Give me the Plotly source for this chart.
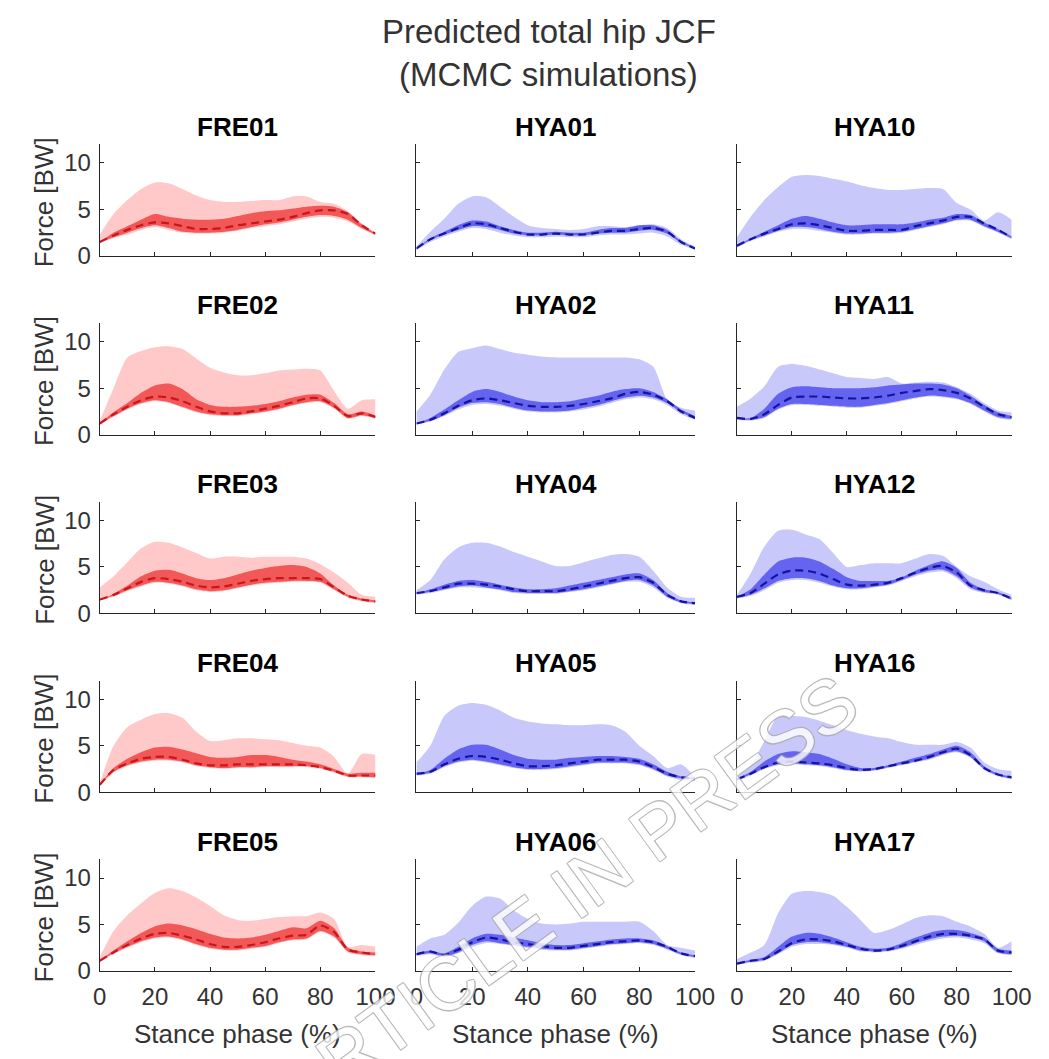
import plotly.graph_objects as go

# ---------------- data (stance phase %, force in BW) ----------------
stance = [0, 5, 10, 15, 20, 25, 30, 35, 40, 45, 50, 55, 60, 65, 70, 75, 80, 85, 90, 95, 100]
y_ticks = [0, 5, 10]
x_ticks = [0, 20, 40, 60, 80, 100]

FRE01_med    = [1.5, 2.2, 2.8, 3.3, 3.6, 3.5, 3.2, 2.9, 2.9, 3.0, 3.3, 3.5, 3.7, 3.9, 4.2, 4.6, 4.9, 4.9, 4.5, 3.3, 2.4]
FRE01_in_hi  = [1.5, 2.5, 3.2, 3.9, 4.5, 4.2, 4.0, 3.9, 3.9, 4.0, 4.3, 4.6, 4.8, 4.9, 5.1, 5.3, 5.4, 5.3, 4.7, 3.4, 2.4]
FRE01_in_lo  = [1.5, 2.0, 2.5, 3.0, 3.3, 3.0, 2.6, 2.5, 2.5, 2.6, 2.8, 3.1, 3.4, 3.6, 3.9, 4.2, 4.4, 4.3, 3.9, 3.0, 2.3]
FRE01_out_hi = [2.3, 4.5, 6.0, 7.2, 7.9, 7.8, 7.2, 6.5, 6.0, 5.8, 5.8, 5.9, 6.0, 6.0, 6.4, 6.4, 5.8, 5.6, 4.8, 3.5, 2.5]
FRE01_out_lo = [1.4, 1.9, 2.3, 2.8, 3.1, 2.8, 2.5, 2.4, 2.4, 2.5, 2.7, 3.0, 3.2, 3.4, 3.7, 4.0, 4.2, 4.1, 3.7, 2.9, 2.2]

FRE02_med    = [1.2, 2.2, 3.0, 3.7, 4.1, 4.0, 3.6, 3.0, 2.5, 2.3, 2.3, 2.5, 2.8, 3.1, 3.5, 3.9, 3.9, 3.1, 2.0, 2.3, 1.9]
FRE02_in_hi  = [1.2, 2.4, 3.4, 4.5, 5.3, 5.5, 4.9, 3.8, 3.2, 3.0, 3.0, 3.1, 3.3, 3.6, 4.0, 4.3, 4.3, 3.4, 2.2, 2.5, 2.1]
FRE02_in_lo  = [1.2, 2.0, 2.8, 3.4, 3.7, 3.5, 3.0, 2.5, 2.2, 2.1, 2.1, 2.3, 2.5, 2.8, 3.2, 3.5, 3.6, 2.9, 1.8, 2.1, 1.8]
FRE02_out_hi = [1.5, 5.0, 8.3, 9.0, 9.4, 9.5, 9.2, 8.2, 7.2, 6.7, 6.4, 6.4, 6.6, 6.9, 7.0, 7.1, 6.9, 4.7, 2.8, 3.7, 3.8]
FRE02_out_lo = [1.1, 1.9, 2.7, 3.3, 3.6, 3.4, 2.9, 2.4, 2.1, 2.0, 2.0, 2.2, 2.4, 2.7, 3.1, 3.4, 3.5, 2.8, 1.7, 2.0, 1.7]

FRE03_med    = [1.5, 2.0, 2.7, 3.4, 3.8, 3.7, 3.4, 3.0, 2.8, 2.9, 3.2, 3.5, 3.7, 3.8, 3.8, 3.8, 3.7, 2.8, 1.9, 1.5, 1.3]
FRE03_in_hi  = [1.5, 2.1, 3.0, 4.0, 4.6, 4.7, 4.3, 3.8, 3.6, 3.8, 4.2, 4.6, 4.9, 5.1, 5.2, 5.0, 4.3, 3.0, 2.0, 1.6, 1.4]
FRE03_in_lo  = [1.5, 1.9, 2.5, 3.0, 3.4, 3.3, 3.0, 2.6, 2.4, 2.5, 2.8, 3.1, 3.3, 3.4, 3.5, 3.5, 3.4, 2.6, 1.8, 1.4, 1.2]
FRE03_out_hi = [2.8, 4.0, 5.5, 7.0, 7.7, 7.6, 7.1, 6.5, 5.9, 6.1, 6.1, 6.0, 6.1, 6.1, 6.1, 5.9, 5.3, 4.4, 3.3, 2.0, 1.8]
FRE03_out_lo = [1.4, 1.8, 2.4, 2.9, 3.3, 3.2, 2.9, 2.5, 2.3, 2.4, 2.7, 3.0, 3.2, 3.3, 3.4, 3.4, 3.3, 2.5, 1.7, 1.3, 1.1]

FRE04_med    = [0.8, 2.4, 3.1, 3.6, 3.8, 3.8, 3.5, 3.1, 2.9, 2.9, 3.0, 3.0, 3.0, 3.0, 3.0, 2.9, 2.7, 2.3, 1.8, 1.8, 1.8]
FRE04_in_hi  = [0.8, 2.6, 3.6, 4.3, 4.8, 4.9, 4.6, 4.2, 3.8, 3.7, 3.8, 4.0, 4.0, 3.8, 3.5, 3.3, 3.0, 2.5, 2.0, 2.1, 2.1]
FRE04_in_lo  = [0.8, 2.2, 2.9, 3.3, 3.5, 3.5, 3.3, 2.9, 2.7, 2.6, 2.7, 2.7, 2.8, 2.8, 2.8, 2.8, 2.6, 2.2, 1.7, 1.7, 1.6]
FRE04_out_hi = [1.0, 5.0, 7.0, 7.8, 8.4, 8.5, 8.0, 6.5, 5.5, 5.6, 5.8, 5.8, 5.7, 5.6, 5.3, 5.0, 4.8, 3.8, 2.0, 4.1, 4.0]
FRE04_out_lo = [0.7, 2.1, 2.8, 3.2, 3.4, 3.4, 3.2, 2.8, 2.6, 2.5, 2.6, 2.6, 2.7, 2.7, 2.7, 2.7, 2.5, 2.1, 1.6, 1.6, 1.5]

FRE05_med    = [1.1, 2.0, 2.8, 3.5, 4.0, 4.1, 3.8, 3.4, 2.9, 2.6, 2.6, 2.8, 3.1, 3.5, 3.8, 3.9, 4.9, 4.2, 2.3, 2.0, 1.8]
FRE05_in_hi  = [1.1, 2.2, 3.2, 4.1, 4.8, 5.1, 4.9, 4.5, 4.0, 3.6, 3.5, 3.6, 3.9, 4.3, 4.7, 4.6, 5.4, 4.6, 2.5, 2.1, 2.0]
FRE05_in_lo  = [1.1, 1.9, 2.6, 3.2, 3.6, 3.7, 3.4, 2.9, 2.5, 2.3, 2.3, 2.5, 2.7, 3.1, 3.4, 3.5, 4.3, 3.7, 2.1, 1.8, 1.7]
FRE05_out_hi = [1.5, 4.3, 6.0, 7.3, 8.4, 8.9, 8.6, 7.9, 7.0, 6.0, 5.5, 5.4, 5.6, 5.8, 5.9, 5.9, 6.3, 5.6, 2.6, 2.8, 2.6]
FRE05_out_lo = [1.0, 1.8, 2.5, 3.1, 3.5, 3.6, 3.3, 2.8, 2.4, 2.2, 2.2, 2.4, 2.6, 3.0, 3.3, 3.4, 4.2, 3.6, 2.0, 1.7, 1.6]

HYA01_med    = [0.8, 1.8, 2.4, 3.0, 3.5, 3.4, 3.0, 2.6, 2.3, 2.3, 2.4, 2.3, 2.3, 2.5, 2.7, 2.7, 2.9, 3.0, 2.6, 1.5, 0.8]
HYA01_in_hi  = [0.8, 1.9, 2.6, 3.3, 3.8, 3.7, 3.2, 2.8, 2.5, 2.5, 2.6, 2.5, 2.5, 2.8, 3.0, 3.0, 3.3, 3.3, 2.8, 1.6, 0.9]
HYA01_in_lo  = [0.7, 1.7, 2.3, 2.8, 3.2, 3.1, 2.8, 2.4, 2.2, 2.2, 2.3, 2.2, 2.2, 2.4, 2.5, 2.5, 2.7, 2.8, 2.4, 1.4, 0.8]
HYA01_out_hi = [1.0, 2.6, 4.0, 5.6, 6.4, 6.3, 5.3, 4.2, 3.3, 3.0, 2.9, 2.8, 2.9, 3.2, 3.2, 3.1, 3.3, 3.4, 3.0, 1.8, 1.0]
HYA01_out_lo = [0.6, 1.5, 2.1, 2.6, 3.0, 2.9, 2.5, 2.2, 2.0, 2.0, 2.1, 2.0, 2.0, 2.2, 2.3, 2.3, 2.4, 2.5, 2.1, 1.2, 0.7]

HYA02_med    = [1.2, 1.6, 2.3, 3.1, 3.7, 3.9, 3.7, 3.4, 3.1, 3.0, 3.0, 3.1, 3.3, 3.6, 3.9, 4.4, 4.6, 4.3, 3.6, 2.5, 1.8]
HYA02_in_hi  = [1.2, 1.8, 2.7, 3.7, 4.6, 4.9, 4.6, 4.1, 3.7, 3.5, 3.5, 3.6, 3.9, 4.2, 4.6, 4.9, 5.0, 4.6, 3.8, 2.7, 2.0]
HYA02_in_lo  = [1.2, 1.5, 2.1, 2.9, 3.4, 3.5, 3.3, 2.9, 2.6, 2.5, 2.5, 2.6, 2.9, 3.2, 3.6, 4.0, 4.2, 4.0, 3.4, 2.4, 1.7]
HYA02_out_hi = [2.5, 4.3, 7.0, 8.9, 9.3, 9.6, 9.2, 8.8, 8.6, 8.4, 8.3, 8.3, 8.3, 8.3, 8.3, 8.3, 8.1, 7.3, 3.8, 2.9, 2.6]
HYA02_out_lo = [1.1, 1.4, 2.0, 2.7, 3.2, 3.3, 3.1, 2.8, 2.5, 2.4, 2.4, 2.5, 2.7, 3.0, 3.4, 3.8, 4.0, 3.8, 3.2, 2.2, 1.6]

HYA04_med    = [2.2, 2.4, 2.8, 3.2, 3.2, 3.1, 2.9, 2.6, 2.4, 2.4, 2.4, 2.6, 2.9, 3.2, 3.5, 3.8, 3.9, 3.3, 2.0, 1.3, 1.1]
HYA04_in_hi  = [2.2, 2.6, 3.1, 3.5, 3.6, 3.4, 3.1, 2.8, 2.6, 2.6, 2.7, 3.0, 3.3, 3.6, 3.9, 4.2, 4.3, 3.6, 2.2, 1.4, 1.2]
HYA04_in_lo  = [2.1, 2.3, 2.6, 2.9, 3.0, 2.8, 2.6, 2.3, 2.2, 2.2, 2.2, 2.4, 2.6, 2.9, 3.2, 3.5, 3.6, 3.0, 1.8, 1.2, 1.0]
HYA04_out_hi = [2.5, 3.6, 5.8, 7.1, 7.6, 7.6, 7.2, 6.6, 6.1, 5.6, 5.1, 5.1, 5.5, 5.9, 6.3, 6.4, 6.1, 4.6, 2.8, 1.8, 1.7]
HYA04_out_lo = [2.0, 2.2, 2.5, 2.8, 2.8, 2.7, 2.5, 2.2, 2.1, 2.1, 2.1, 2.3, 2.5, 2.8, 3.1, 3.4, 3.4, 2.8, 1.7, 1.1, 0.9]

HYA05_med    = [2.0, 2.2, 3.0, 3.6, 3.9, 3.8, 3.5, 3.1, 2.8, 2.8, 2.9, 3.1, 3.3, 3.5, 3.5, 3.5, 3.3, 2.7, 2.0, 1.6, 1.5]
HYA05_in_hi  = [2.0, 2.4, 3.6, 4.6, 5.1, 5.1, 4.6, 4.0, 3.6, 3.5, 3.5, 3.7, 3.8, 3.9, 3.9, 3.8, 3.6, 3.0, 2.2, 1.7, 1.6]
HYA05_in_lo  = [1.9, 2.1, 2.8, 3.3, 3.5, 3.3, 3.0, 2.7, 2.5, 2.5, 2.6, 2.8, 3.0, 3.2, 3.2, 3.2, 3.0, 2.5, 1.8, 1.5, 1.4]
HYA05_out_hi = [3.2, 5.0, 8.2, 9.3, 9.6, 9.4, 8.8, 8.0, 7.6, 7.4, 7.3, 7.2, 7.2, 7.3, 7.2, 6.5, 5.0, 3.9, 2.6, 3.0, 1.6]
HYA05_out_lo = [1.8, 2.0, 2.7, 3.2, 3.4, 3.2, 2.9, 2.6, 2.4, 2.4, 2.5, 2.7, 2.9, 3.1, 3.1, 3.1, 2.9, 2.4, 1.7, 1.3, 1.2]

HYA06_med    = [1.8, 2.1, 1.7, 2.3, 3.1, 3.6, 3.4, 3.1, 2.9, 2.7, 2.5, 2.5, 2.7, 2.9, 3.1, 3.2, 3.3, 3.1, 2.6, 1.9, 1.6]
HYA06_in_hi  = [1.9, 2.2, 1.9, 2.6, 3.5, 4.0, 3.9, 3.6, 3.3, 3.0, 2.8, 2.8, 3.0, 3.2, 3.4, 3.5, 3.5, 3.3, 2.7, 2.0, 1.7]
HYA06_in_lo  = [1.7, 1.9, 1.6, 2.0, 2.8, 3.2, 3.0, 2.8, 2.6, 2.4, 2.3, 2.3, 2.5, 2.7, 2.9, 3.0, 3.1, 2.9, 2.4, 1.8, 1.5]
HYA06_out_hi = [2.6, 3.5, 3.9, 5.2, 7.0, 8.0, 7.8, 6.5, 5.6, 5.1, 5.0, 5.1, 5.3, 5.3, 5.3, 5.3, 5.3, 4.3, 2.8, 2.5, 2.2]
HYA06_out_lo = [1.6, 1.8, 1.5, 1.9, 2.6, 3.0, 2.9, 2.7, 2.5, 2.3, 2.2, 2.2, 2.4, 2.6, 2.8, 2.9, 3.0, 2.8, 2.3, 1.7, 1.4]

HYA10_med    = [1.1, 1.8, 2.4, 2.9, 3.4, 3.5, 3.3, 3.0, 2.7, 2.7, 2.8, 2.8, 2.8, 3.2, 3.5, 3.8, 4.2, 4.2, 3.5, 2.8, 2.0]
HYA10_in_hi  = [1.1, 1.9, 2.6, 3.3, 4.0, 4.3, 4.0, 3.6, 3.3, 3.3, 3.4, 3.4, 3.4, 3.6, 3.9, 4.1, 4.5, 4.4, 3.6, 2.9, 2.1]
HYA10_in_lo  = [1.0, 1.7, 2.2, 2.7, 3.1, 3.1, 2.9, 2.6, 2.4, 2.4, 2.5, 2.5, 2.6, 2.9, 3.2, 3.5, 3.9, 3.9, 3.2, 2.6, 1.9]
HYA10_out_hi = [2.0, 4.2, 6.0, 7.4, 8.5, 8.7, 8.6, 8.3, 8.0, 7.6, 7.3, 7.1, 7.1, 7.2, 7.3, 7.2, 5.7, 5.0, 3.8, 4.7, 3.9]
HYA10_out_lo = [0.9, 1.6, 2.1, 2.6, 2.9, 2.9, 2.7, 2.5, 2.3, 2.3, 2.4, 2.4, 2.5, 2.8, 3.1, 3.4, 3.8, 3.8, 3.1, 2.5, 1.8]

HYA11_med    = [1.8, 1.7, 2.2, 3.2, 4.0, 4.1, 4.1, 4.0, 3.9, 3.9, 4.0, 4.2, 4.5, 4.7, 4.9, 4.8, 4.5, 3.9, 3.0, 2.2, 1.9]
HYA11_in_hi  = [1.8, 1.8, 2.8, 4.4, 5.1, 5.2, 5.1, 5.0, 5.0, 5.0, 5.1, 5.3, 5.4, 5.5, 5.5, 5.4, 5.0, 4.2, 3.2, 2.4, 2.0]
HYA11_in_lo  = [1.7, 1.6, 1.9, 2.8, 3.3, 3.3, 3.2, 3.1, 3.0, 3.0, 3.2, 3.4, 3.7, 4.0, 4.2, 4.1, 3.9, 3.4, 2.6, 1.9, 1.7]
HYA11_out_hi = [3.0, 3.9, 5.2, 7.3, 7.6, 7.4, 7.0, 6.6, 6.2, 6.1, 6.0, 6.2, 5.5, 5.6, 5.7, 5.6, 5.1, 4.4, 3.4, 2.6, 2.4]
HYA11_out_lo = [1.6, 1.5, 1.8, 2.7, 3.2, 3.2, 3.1, 3.0, 2.9, 2.9, 3.1, 3.3, 3.6, 3.9, 4.1, 4.0, 3.8, 3.3, 2.5, 1.8, 1.6]

HYA12_med    = [1.8, 2.2, 3.2, 4.2, 4.6, 4.6, 4.3, 3.7, 3.1, 3.0, 3.1, 3.3, 3.8, 4.4, 4.9, 5.1, 4.4, 3.0, 2.5, 2.2, 1.6]
HYA12_in_hi  = [1.8, 2.6, 4.2, 5.6, 6.0, 6.0, 5.6, 4.8, 3.9, 3.5, 3.5, 3.5, 3.9, 4.6, 5.2, 5.6, 4.9, 3.3, 2.6, 2.3, 1.7]
HYA12_in_lo  = [1.7, 2.0, 2.7, 3.5, 3.8, 3.8, 3.5, 3.0, 2.7, 2.7, 2.9, 3.1, 3.6, 4.2, 4.6, 4.7, 4.0, 2.8, 2.3, 2.1, 1.5]
HYA12_out_hi = [2.0, 4.3, 7.2, 8.9, 9.0, 8.5, 8.0, 6.5, 5.0, 5.2, 5.4, 5.4, 5.4, 5.9, 6.4, 6.2, 5.0, 4.0, 3.4, 2.6, 2.0]
HYA12_out_lo = [1.6, 1.9, 2.5, 3.3, 3.6, 3.6, 3.3, 2.9, 2.6, 2.6, 2.8, 3.0, 3.5, 4.0, 4.4, 4.5, 3.8, 2.6, 2.2, 2.0, 1.4]

HYA16_med    = [1.4, 2.0, 2.7, 3.2, 3.3, 3.2, 3.1, 2.9, 2.6, 2.4, 2.5, 2.8, 3.1, 3.4, 3.8, 4.3, 4.7, 4.0, 2.6, 1.9, 1.6]
HYA16_in_hi  = [1.4, 2.2, 3.3, 4.1, 4.4, 4.3, 4.1, 3.6, 3.0, 2.6, 2.6, 2.9, 3.3, 3.7, 4.1, 4.6, 5.0, 4.3, 2.8, 2.0, 1.7]
HYA16_in_lo  = [1.3, 1.9, 2.6, 3.0, 3.1, 3.0, 2.9, 2.7, 2.4, 2.3, 2.4, 2.7, 3.0, 3.3, 3.6, 4.1, 4.4, 3.8, 2.5, 1.8, 1.5]
HYA16_out_hi = [1.6, 2.9, 5.5, 8.2, 8.2, 8.1, 7.7, 7.2, 6.7, 6.3, 6.0, 5.8, 5.4, 5.1, 5.1, 5.1, 5.4, 4.8, 3.2, 2.5, 2.3]
HYA16_out_lo = [1.2, 1.8, 2.5, 2.9, 3.0, 2.9, 2.8, 2.6, 2.3, 2.2, 2.3, 2.6, 2.9, 3.2, 3.5, 4.0, 4.3, 3.7, 2.4, 1.7, 1.4]

HYA17_med    = [0.8, 1.1, 1.3, 2.1, 3.0, 3.4, 3.4, 3.2, 2.8, 2.4, 2.2, 2.3, 2.7, 3.2, 3.7, 4.0, 4.0, 3.8, 3.4, 2.2, 2.0]
HYA17_in_hi  = [0.8, 1.2, 1.5, 2.6, 3.7, 4.1, 4.0, 3.6, 3.1, 2.6, 2.4, 2.5, 3.0, 3.6, 4.1, 4.4, 4.4, 4.1, 3.6, 2.4, 2.2]
HYA17_in_lo  = [0.8, 1.0, 1.2, 1.9, 2.8, 3.1, 3.1, 2.9, 2.6, 2.2, 2.1, 2.2, 2.5, 3.0, 3.4, 3.7, 3.8, 3.6, 3.2, 2.0, 1.8]
HYA17_out_hi = [1.3, 2.0, 2.8, 6.2, 8.3, 8.6, 8.5, 8.1, 6.9, 5.5, 4.1, 4.4, 5.0, 5.7, 6.0, 5.9, 5.3, 4.8, 4.0, 2.5, 3.2]
HYA17_out_lo = [0.7, 0.9, 1.1, 1.8, 2.6, 2.9, 2.9, 2.8, 2.5, 2.1, 2.0, 2.1, 2.4, 2.8, 3.2, 3.5, 3.6, 3.4, 3.0, 1.9, 1.7]

# grid layout of subjects (rows x columns)
grid = [
    ["FRE01", "HYA01", "HYA10"],
    ["FRE02", "HYA02", "HYA11"],
    ["FRE03", "HYA04", "HYA12"],
    ["FRE04", "HYA05", "HYA16"],
    ["FRE05", "HYA06", "HYA17"],
]

series = {}
for name in [n for row in grid for n in row]:
    g = globals()
    series[name] = dict(out_lo=g[name + "_out_lo"], out_hi=g[name + "_out_hi"],
                        in_lo=g[name + "_in_lo"], in_hi=g[name + "_in_hi"],
                        med=g[name + "_med"])

colors = {
    "FRE": dict(outer="rgb(255,201,201)", inner="rgb(242,88,88)", med="rgb(200,22,28)"),
    "HYA": dict(outer="rgb(200,200,250)", inner="rgb(100,100,240)", med="rgb(20,20,160)"),
}

# ---------------- layout geometry (pixels) ----------------
W, H = 1049, 1059
col_px = [(87, 370), (412, 698), (741, 1023)]
row_bottom = [251, 432, 613, 794, 975]
plot_h = 113

def px_x(p):
    return p / W

def px_y(p):
    return 1 - p / H

fig = go.Figure()
layout = dict(
    width=W, height=H, margin=dict(l=0, r=0, t=0, b=0),
    plot_bgcolor="white", paper_bgcolor="white", showlegend=False,
    font=dict(family="Liberation Sans, Arial, sans-serif", color="#262626"),
)
annotations = []
axis_color = "#262626"

idx = 0
for r, row in enumerate(grid):
    for c, name in enumerate(row):
        idx += 1
        xa = "x" if idx == 1 else f"x{idx}"
        ya = "y" if idx == 1 else f"y{idx}"
        grp = name[:3]
        col = colors[grp]
        d = series[name]
        common = dict(x=stance, xaxis=xa, yaxis=ya, mode="lines", hoverinfo="skip",
                      line=dict(width=0, shape="spline", smoothing=0.7))
        fig.add_trace(go.Scatter(y=d["out_lo"], **common))
        fig.add_trace(go.Scatter(y=d["out_hi"], fill="tonexty", fillcolor=col["outer"], **common))
        fig.add_trace(go.Scatter(y=d["in_lo"], **common))
        fig.add_trace(go.Scatter(y=d["in_hi"], fill="tonexty", fillcolor=col["inner"], **common))
        fig.add_trace(go.Scatter(x=stance, y=d["med"], xaxis=xa, yaxis=ya, mode="lines",
                                 hoverinfo="skip",
                                 line=dict(color=col["med"], width=2.2, dash="8px,5px",
                                           shape="spline", smoothing=0.7)))
        x0, x1 = col_px[c]
        yb = row_bottom[r]
        yt = yb - plot_h
        key_x = "xaxis" if idx == 1 else f"xaxis{idx}"
        key_y = "yaxis" if idx == 1 else f"yaxis{idx}"
        layout[key_x] = dict(
            domain=[px_x(x0), px_x(x1)], anchor=ya, range=[0, 100],
            tickvals=x_ticks, showticklabels=(r == len(grid) - 1),
            ticks="inside", ticklen=4, tickcolor=axis_color, showline=True,
            linecolor=axis_color, linewidth=1, showgrid=False, zeroline=False,
            tickfont=dict(size=24, color="#333333"), ticklabelstandoff=4,
        )
        layout[key_y] = dict(
            domain=[px_y(yb), px_y(yt)], anchor=xa, range=[0, 12],
            tickvals=y_ticks, showticklabels=(c == 0),
            ticks="inside", ticklen=4, tickcolor=axis_color, showline=True,
            linecolor=axis_color, linewidth=1, showgrid=False, zeroline=False,
            tickfont=dict(size=24, color="#333333"), ticklabelstandoff=3,
        )
        # subplot title
        annotations.append(dict(text=f"<b>{name}</b>", x=px_x((x0 + x1) / 2), y=px_y(yt - 18),
                                xref="paper", yref="paper", showarrow=False,
                                xanchor="center", yanchor="middle",
                                font=dict(size=26, color="black")))
        if c == 0:
            annotations.append(dict(text="Force [BW]", x=px_x(30), y=px_y((yt + yb) / 2 + 2),
                                    xref="paper", yref="paper", showarrow=False, textangle=-90,
                                    xanchor="center", yanchor="middle",
                                    font=dict(size=26, color="#333333")))
        if r == len(grid) - 1:
            annotations.append(dict(text="Stance phase (%)", x=px_x((x0 + x1) / 2), y=px_y(1039),
                                    xref="paper", yref="paper", showarrow=False,
                                    xanchor="center", yanchor="middle",
                                    font=dict(size=26, color="#333333")))

# main title
annotations.append(dict(text="Predicted total hip JCF", x=px_x(548), y=px_y(24), xref="paper",
                        yref="paper", showarrow=False, xanchor="center", yanchor="middle",
                        font=dict(size=33, color="#333333")))
annotations.append(dict(text="(MCMC simulations)", x=px_x(548), y=px_y(67), xref="paper",
                        yref="paper", showarrow=False, xanchor="center", yanchor="middle",
                        font=dict(size=33, color="#333333")))
# watermark
annotations.append(dict(text="ARTICLE IN PRESS", x=px_x(566), y=px_y(900), xref="paper",
                        yref="paper", showarrow=False, xanchor="center", yanchor="middle",
                        textangle=-36, opacity=0.8,
                        font=dict(size=76, color="white",
                                  shadow="1px 1px 0 #aaa, -1px -1px 0 #aaa, 1px -1px 0 #aaa, -1px 1px 0 #aaa")))

layout["annotations"] = annotations
fig.update_layout(**layout)
fig.write_html("out.html")
